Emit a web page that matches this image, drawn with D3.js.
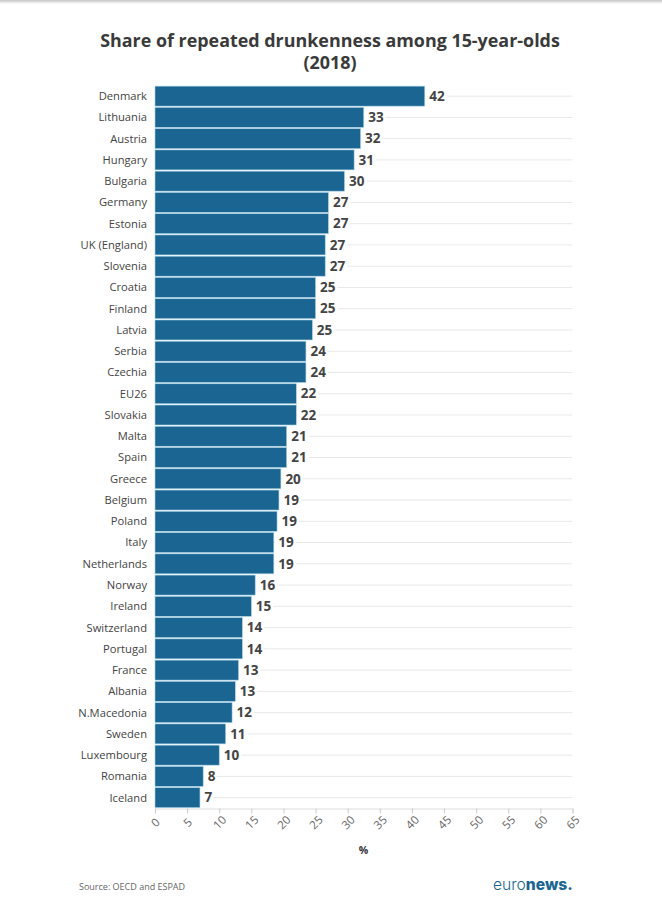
<!DOCTYPE html>
<html>
<head>
  <meta charset="UTF-8">
  <title>drunkenness</title>
  <style>
  html, body{ margin: 0; padding: 0; background: #fff; }
  svg{ display: block; font-family: "Open Sans", sans-serif; }
  .domain{ display: none; }
  </style>
</head>
<body>
  <div class="container"></div>
  <script src="https://cdn.jsdelivr.net/npm/d3@7"></script>
  <script type="text/javascript">
  var countries = ['Denmark','Lithuania','Austria','Hungary','Bulgaria','Germany','Estonia','UK (England)','Slovenia','Croatia','Finland','Latvia','Serbia','Czechia','EU26','Slovakia','Malta','Spain','Greece','Belgium','Poland','Italy','Netherlands','Norway','Ireland','Switzerland','Portugal','France','Albania','N.Macedonia','Sweden','Luxembourg','Romania','Iceland'];
  // bar lengths, labels are the printed (rounded) numbers
  var values = [42,32.5,32,31,29.5,27,27,26.5,26.5,25,25,24.5,23.5,23.5,22,22,20.5,20.5,19.6,19.3,19,18.5,18.5,15.6,15,13.6,13.6,13,12.5,12,11,10,7.5,7];
  var labels = [42,33,32,31,30,27,27,27,27,25,25,25,24,24,22,22,21,21,20,19,19,19,19,16,15,14,14,13,13,12,11,10,8,7];
  var xTicks = [0,5,10,15,20,25,30,35,40,45,50,55,60,65];

  var width = 662, height = 906;
  var svg = d3.select('.container').append('svg')
    .attr('width', width)
    .attr('height', height);

  // grey edge along the top of the page
  var grad = svg.append('defs').append('linearGradient')
    .attr('id', 'edge').attr('x1', 0).attr('x2', 0).attr('y1', 0).attr('y2', 1);
  grad.append('stop').attr('offset', 0).attr('stop-color', '#c4c4c4');
  grad.append('stop').attr('offset', 1).attr('stop-color', '#fff');
  svg.append('rect').attr('width', width).attr('height', 4).attr('fill', 'url(#edge)');

  var x = d3.scaleLinear().domain([0, 65]).range([155, 572.5]);
  var y = d3.scaleBand().domain(countries).range([85.5, 808.3]).paddingInner(0.06).paddingOuter(0.03);
  var rowMid = function(d){ return y(d) + y.bandwidth() / 2; };

  svg.append('text')
    .attr('x', 330).attr('y', 46.5)
    .attr('text-anchor', 'middle').attr('font-size', 17.9).attr('font-weight', 700).attr('fill', '#3a3a3a')
    .text('Share of repeated drunkenness among 15-year-olds');
  svg.append('text')
    .attr('x', 330).attr('y', 68.5)
    .attr('text-anchor', 'middle').attr('font-size', 17.9).attr('font-weight', 700).attr('fill', '#3a3a3a')
    .text('(2018)');

  // gridlines through the middle of each row
  svg.append('g').selectAll('line').data(countries).enter().append('line')
    .attr('x1', x(0)).attr('x2', x(65))
    .attr('y1', rowMid).attr('y2', rowMid)
    .attr('stroke', '#e8e8e8');

  // x axis
  var xAxis = svg.append('g')
    .attr('transform', 'translate(0,808.5)')
    .call(d3.axisBottom(x).tickValues(xTicks).tickSize(5));
  xAxis.select('.domain').style('display', 'inline').attr('stroke', '#dcdcdc');
  xAxis.selectAll('.tick line').attr('stroke', '#ccc');
  xAxis.selectAll('.tick text')
    .attr('font-family', '"Open Sans", sans-serif').attr('font-size', 11.5).attr('fill', '#666')
    .attr('text-anchor', 'middle')
    .attr('y', 0).attr('dy', '0.35em')
    .attr('transform', 'translate(0,14) rotate(-45)');

  // white band behind each number so the gridline stops
  var rows = svg.append('g').selectAll('g').data(countries).enter().append('g');
  rows.append('rect')
    .attr('x', function(d, i){ return x(values[i]) + 1; })
    .attr('y', function(d){ return rowMid(d) - 8; })
    .attr('width', function(d, i){ return String(labels[i]).length * 8.5 + 4; })
    .attr('height', 16)
    .attr('fill', '#fff');
  rows.append('rect')
    .attr('x', x(0))
    .attr('y', function(d){ return y(d); })
    .attr('width', function(d, i){ return x(values[i]) - x(0); })
    .attr('height', y.bandwidth())
    .attr('fill', '#1a6592')
    .attr('stroke', '#a9d3e6').attr('stroke-width', 0.6);
  rows.append('text')
    .attr('x', function(d, i){ return x(values[i]) + 4.5; })
    .attr('y', rowMid).attr('dy', '0.35em')
    .attr('font-size', 13.5).attr('font-weight', 700).attr('fill', '#444')
    .text(function(d, i){ return labels[i]; });
  rows.append('text')
    .attr('x', 147)
    .attr('y', rowMid).attr('dy', '0.35em')
    .attr('text-anchor', 'end').attr('font-size', 11.2).attr('fill', '#444')
    .text(function(d){ return d; });

  svg.append('text')
    .attr('x', 363.5).attr('y', 854)
    .attr('text-anchor', 'middle').attr('font-size', 10.5).attr('font-weight', 700).attr('fill', '#333')
    .text('%');

  svg.append('text')
    .attr('x', 79).attr('y', 890)
    .attr('font-size', 9).attr('fill', '#666')
    .text('Source: OECD and ESPAD');

  // euronews wordmark
  var logo = svg.append('text')
    .attr('x', 493).attr('y', 889.5)
    .attr('font-size', 15.6).attr('fill', '#1a6592')
    .attr('font-family', 'Inter, "Open Sans", sans-serif');
  logo.append('tspan').attr('font-weight', 300).text('euro');
  logo.append('tspan').attr('font-weight', 800).text('news.');
  </script>
</body>
</html>
